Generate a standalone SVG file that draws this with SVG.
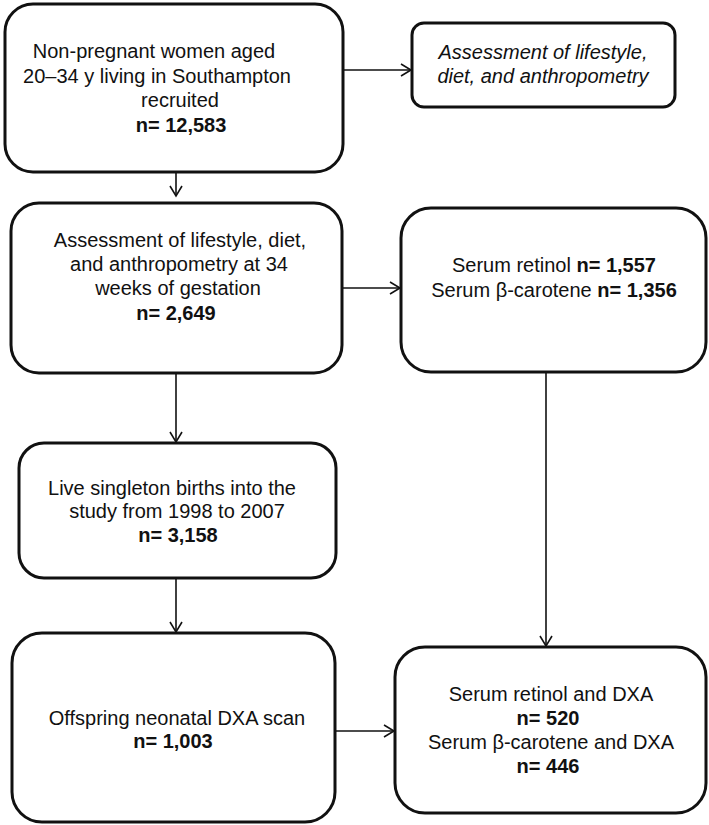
<svg xmlns="http://www.w3.org/2000/svg" width="709" height="825" viewBox="0 0 709 825">
<style>
.box{fill:#fff;stroke:#111;stroke-width:3}
.con{fill:none;stroke:#111;stroke-width:1.6}
text{font-family:"Liberation Sans",Arial,sans-serif;font-size:20px;fill:#111;text-anchor:middle}
.b{font-weight:bold}
.i{font-style:italic}
</style>
<defs>
<marker id="arr" markerUnits="userSpaceOnUse" markerWidth="14" markerHeight="14" viewBox="0 0 14 14" refX="12" refY="7" orient="auto">
<path d="M2,1 L12,7 L2,13" fill="none" stroke="#111" stroke-width="1.6"/>
</marker>
</defs>
<rect width="709" height="825" fill="#fff"/>
<g id="connectors">
<line class="con" x1="343" y1="70" x2="411" y2="70" marker-end="url(#arr)"/>
<line class="con" x1="176" y1="172" x2="176" y2="196" marker-end="url(#arr)"/>
<line class="con" x1="342" y1="288" x2="400" y2="288" marker-end="url(#arr)"/>
<line class="con" x1="176" y1="373" x2="176" y2="442" marker-end="url(#arr)"/>
<line class="con" x1="176" y1="578" x2="176" y2="632" marker-end="url(#arr)"/>
<line class="con" x1="546" y1="372" x2="546" y2="646" marker-end="url(#arr)"/>
<line class="con" x1="335" y1="731" x2="394" y2="731" marker-end="url(#arr)"/>
</g>
<g id="recruited">
<rect class="box" x="5" y="4" width="338" height="168" rx="28"/>
<text x="154" y="58">Non-pregnant  women aged</text>
<text x="157" y="83">20–34 y living  in Southampton</text>
<text x="180" y="107">recruited</text>
<text class="b" x="181" y="132">n= 12,583</text>
</g>
<g id="assessment-prepregnancy">
<rect class="box" x="412" y="23" width="263" height="84" rx="12"/>
<text class="i" x="543" y="59">Assessment of lifestyle,</text>
<text class="i" x="543" y="83">diet,  and anthropometry</text>
</g>
<g id="assessment-34wk">
<rect class="box" x="11" y="203" width="331" height="170" rx="28"/>
<text x="180" y="247">Assessment of lifestyle, diet,</text>
<text x="179" y="271">and anthropometry at 34</text>
<text x="178" y="295">weeks of gestation</text>
<text class="b" x="176" y="320">n= 2,649</text>
</g>
<g id="serum">
<rect class="box" x="401" y="208" width="305" height="164" rx="30"/>
<text x="554" y="272">Serum retinol <tspan class="b">n= 1,557</tspan></text>
<text x="554" y="297">Serum β-carotene <tspan class="b">n= 1,356</tspan></text>
</g>
<g id="births">
<rect class="box" x="19" y="443" width="317" height="135" rx="25"/>
<text x="172" y="495">Live singleton births into the</text>
<text x="177" y="518">study from 1998 to 2007</text>
<text class="b" x="178" y="542">n= 3,158</text>
</g>
<g id="dxa">
<rect class="box" x="12" y="633" width="323" height="189" rx="30"/>
<text x="177" y="725">Offspring neonatal DXA scan</text>
<text class="b" x="173" y="748">n= 1,003</text>
</g>
<g id="serum-dxa">
<rect class="box" x="395" y="647" width="311" height="166" rx="30"/>
<text x="551" y="701">Serum retinol  and  DXA</text>
<text class="b" x="548" y="725">n= 520</text>
<text x="551" y="749">Serum β-carotene and DXA</text>
<text class="b" x="548" y="773">n= 446</text>
</g>
</svg>
